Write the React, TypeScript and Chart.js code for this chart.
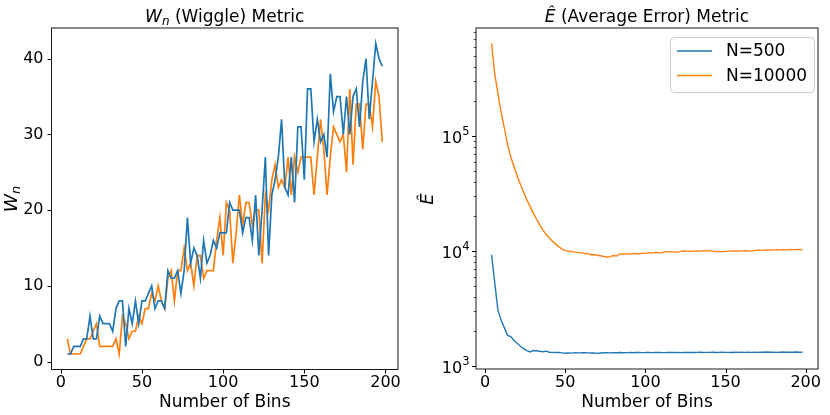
import { useEffect, useRef } from 'react';
import { Chart, ChartConfiguration, registerables } from 'chart.js';

Chart.register(...registerables);

// Bin counts used on both panels
const bins = [
  4, 6, 8, 10, 12, 14, 16, 18, 20, 22, 24, 26, 28, 30, 32, 34, 36, 38, 40, 42,
  44, 46, 48, 50, 52, 54, 56, 58, 60, 62, 64, 66, 68, 70, 72, 74, 76, 78, 80, 82,
  84, 86, 88, 90, 92, 94, 96, 98, 100, 102, 104, 106, 108, 110, 112, 114, 116, 118, 120, 122,
  124, 126, 128, 130, 132, 134, 136, 138, 140, 142, 144, 146, 148, 150, 152, 154, 156, 158, 160, 162,
  164, 166, 168, 170, 172, 174, 176, 178, 180, 182, 184, 186, 188, 190, 192, 194, 196, 198,
];

// W_n (wiggle) metric
const wiggle500 = [
  1, 1, 2, 2, 2, 3, 3, 6, 3, 3, 6, 5, 5, 5, 4, 7, 8, 8, 2, 7,
  5, 8, 5, 8, 8, 9, 10, 7, 8, 8, 7, 12, 11, 11, 12, 9, 12, 19, 13, 15,
  14, 11, 16, 13, 14, 16, 15, 17, 17, 17, 21, 20, 20, 20, 17, 19, 19, 16, 22, 14,
  20, 27, 14, 22, 24, 27, 32, 23, 22, 27, 21, 31, 31, 24, 36, 36, 29, 32, 29, 30,
  27, 38, 33, 35, 35, 30, 35, 30, 35, 36, 31, 37, 40, 32, 37, 42, 40, 39,
];
const wiggle10000 = [
  3, 1, 1, 1, 1, 2, 3, 3, 4, 5, 2, 2, 2, 2, 2, 3, 1, 6, 5, 3,
  4, 4, 6, 5, 7, 7, 9, 8, 10, 8, 7, 11, 12, 8, 12, 12, 15, 12, 13, 10,
  14, 14, 11, 12, 12, 12, 16, 19, 14, 21, 20, 13, 17, 22, 18, 21, 21, 18, 20, 20,
  13, 22, 20, 24, 26, 23, 24, 23, 27, 22, 27, 25, 27, 27, 27, 27, 22, 27, 32, 28,
  22, 27, 31, 30, 29, 30, 25, 36, 26, 34, 34, 28, 34, 34, 31, 37, 35, 29,
];

// Ê (average error) metric
const error500 = [
  9300, 5300, 3050, 2500, 2150, 1850, 1810, 1670, 1580, 1490,
  1420, 1365, 1330, 1365, 1360, 1345, 1335, 1350, 1320, 1318,
  1312, 1315, 1305, 1295, 1300, 1298, 1310, 1304, 1306, 1310,
  1304, 1300, 1302, 1290, 1300, 1305, 1308, 1304, 1310, 1308,
  1312, 1306, 1310, 1314, 1308, 1312, 1315, 1310, 1312, 1316,
  1310, 1314, 1318, 1312, 1310, 1316, 1312, 1318, 1314, 1310,
  1316, 1312, 1318, 1314, 1316, 1320, 1314, 1318, 1316, 1320,
  1314, 1318, 1322, 1316, 1318, 1314, 1320, 1318, 1322, 1316,
  1320, 1318, 1324, 1318, 1322, 1320, 1326, 1320, 1324, 1318,
  1322, 1326, 1320, 1324, 1322, 1326, 1320, 1322,
];
const error10000 = [
  640000, 345000, 235000, 160000, 117000, 84000, 66000, 54000, 45000, 38000,
  32500, 28000, 24500, 21500, 19000, 17000, 15300, 14000, 13000, 12200,
  11500, 10900, 10400, 10100, 10000, 9900, 9800, 9750, 9650, 9500,
  9550, 9300, 9350, 9200, 9100, 9000, 8850, 8950, 9150, 9050,
  9450, 9400, 9500, 9400, 9500, 9550, 9450, 9600, 9550, 9700,
  9600, 9750, 9700, 9650, 9900, 9850, 9900, 9800, 9800, 9950,
  10050, 10000, 9950, 10000, 10050, 10000, 10100, 10050, 10100, 10000,
  9900, 9950, 9900, 9950, 10000, 10000, 10050, 10000, 10050, 10100,
  10050, 10000, 10100, 10200, 10150, 10200, 10250, 10200, 10250, 10300,
  10250, 10300, 10250, 10350, 10300, 10300, 10350, 10300,
];

const binTicks = [0, 50, 100, 150, 200];
const wiggleTicks = [0, 10, 20, 30, 40];
const errorMajorTicks = [1000, 10000, 100000];
const errorExponents = ['3', '4', '5'];

const seriesNames = ['N=500', 'N=10000'];
const BLUE = '#1f77b4';
const ORANGE = '#ff7f0e';
const FONT = '"DejaVu Sans", sans-serif';

Chart.defaults.font.family = FONT;
Chart.defaults.color = '#000';

type Part = { text: string; size: number; italic?: boolean; dy?: number };

function fontOf(p: Part) {
  return `${p.italic ? 'italic ' : ''}${p.size}px ${FONT}`;
}

function partsWidth(ctx: CanvasRenderingContext2D, parts: Part[]) {
  let w = 0;
  for (const p of parts) {
    ctx.font = fontOf(p);
    w += ctx.measureText(p.text).width;
  }
  return w;
}

function drawParts(ctx: CanvasRenderingContext2D, parts: Part[], x0: number, baseline: number) {
  let x = x0;
  ctx.textAlign = 'left';
  ctx.textBaseline = 'alphabetic';
  for (const p of parts) {
    ctx.font = fontOf(p);
    ctx.fillText(p.text, x, baseline + (p.dy || 0));
    x += ctx.measureText(p.text).width;
  }
}

const drawCentered = (ctx: CanvasRenderingContext2D, parts: Part[], cx: number, baseline: number) =>
  drawParts(ctx, parts, cx - partsWidth(ctx, parts) / 2, baseline);

const toPoints = (ys: number[]) => bins.map((b, i) => ({ x: b, y: ys[i] }));

// spines, outward ticks, titles, axis labels and legend, matplotlib style
const framePlugin = {
  id: 'frame',
  afterDraw(chart: any, _args: any, opts: any) {
    const { ctx, chartArea: a, scales } = chart;
    ctx.save();
    ctx.fillStyle = '#000';
    ctx.strokeStyle = '#000';

    ctx.lineWidth = 1;
    for (const t of scales.x.ticks) {
      const px = Math.round(scales.x.getPixelForValue(t.value)) + 0.5;
      ctx.beginPath();
      ctx.moveTo(px, a.bottom);
      ctx.lineTo(px, a.bottom + 4);
      ctx.stroke();
    }
    for (const t of scales.y.ticks) {
      const py = Math.round(scales.y.getPixelForValue(t.value)) + 0.5;
      const major = !opts.logMinor || t.major;
      ctx.lineWidth = major ? 1 : 0.7;
      ctx.beginPath();
      ctx.moveTo(a.left, py);
      ctx.lineTo(a.left - (major ? 4 : 2.3), py);
      ctx.stroke();
    }

    // 10^n labels with a raised exponent
    if (opts.logMinor) {
      errorMajorTicks.forEach((v, i) => {
        const py = scales.y.getPixelForValue(v);
        const parts: Part[] = [
          { text: '10', size: 16 },
          { text: errorExponents[i], size: 11.5, dy: -7.5 },
        ];
        drawParts(ctx, parts, a.left - 6.5 - partsWidth(ctx, parts), py + 6.5);
      });
    }

    ctx.lineWidth = 0.9;
    ctx.strokeRect(a.left, a.top, a.right - a.left, a.bottom - a.top);

    const cx = (a.left + a.right) / 2;
    drawCentered(ctx, opts.title, cx, 22);
    drawCentered(ctx, [{ text: 'Number of Bins', size: 17 }], cx, 407);

    ctx.save();
    ctx.translate(opts.ylabelX, 199);
    ctx.rotate(-Math.PI / 2);
    drawCentered(ctx, opts.ylabel, 0, 0);
    ctx.restore();

    if (opts.legend) {
      const lx = 255, ly = 37, lw = 144, lh = 55;
      ctx.beginPath();
      ctx.roundRect(lx + 0.5, ly + 0.5, lw, lh, 4);
      ctx.fillStyle = 'rgba(255,255,255,0.8)';
      ctx.fill();
      ctx.strokeStyle = '#cccccc';
      ctx.lineWidth = 1;
      ctx.stroke();
      chart.data.datasets.forEach((ds: any, i: number) => {
        const y = 51 + i * 24.5;
        ctx.strokeStyle = ds.borderColor;
        ctx.lineWidth = 1.5;
        ctx.beginPath();
        ctx.moveTo(262, y);
        ctx.lineTo(297, y);
        ctx.stroke();
        ctx.fillStyle = '#000';
        ctx.font = `17px ${FONT}`;
        ctx.textAlign = 'left';
        ctx.textBaseline = 'middle';
        ctx.fillText(ds.label, 311, y + 1);
      });
    }
    ctx.restore();
  },
};

function xScale(chartBottomGap: number) {
  return {
    type: 'linear' as const,
    min: -5.7,
    max: 207.7,
    grid: { display: false, drawTicks: false },
    border: { display: false },
    afterBuildTicks: (s: any) => {
      s.ticks = binTicks.map((v) => ({ value: v }));
    },
    afterFit: (s: any) => {
      s.height = chartBottomGap;
    },
    ticks: { font: { size: 16 }, color: '#000', padding: 4, maxRotation: 0, autoSkip: false },
  };
}

function wiggleConfig(): ChartConfiguration {
  return {
    type: 'line',
    data: {
      datasets: [
        { label: seriesNames[0], data: toPoints(wiggle500), borderColor: BLUE, borderWidth: 1.7 },
        { label: seriesNames[1], data: toPoints(wiggle10000), borderColor: ORANGE, borderWidth: 1.7 },
      ],
    },
    options: {
      animation: false,
      responsive: false,
      devicePixelRatio: 1,
      elements: { point: { radius: 0 }, line: { tension: 0 } },
      layout: { padding: { top: 28, right: 17, left: 0, bottom: 0 } },
      plugins: {
        legend: { display: false },
        tooltip: { enabled: false },
        frame: {
          title: [
            { text: 'W', size: 17, italic: true },
            { text: 'n', size: 12, italic: true, dy: 3 },
            { text: ' (Wiggle) Metric', size: 17 },
          ],
          ylabel: [
            { text: 'W', size: 18.5, italic: true },
            { text: 'n', size: 13, italic: true, dy: 3.5 },
          ],
          ylabelX: 16.7,
        },
      } as any,
      scales: {
        x: xScale(45.5),
        y: {
          type: 'linear',
          min: -1.05,
          max: 44.05,
          grid: { display: false, drawTicks: false },
          border: { display: false },
          afterBuildTicks: (s: any) => {
            s.ticks = wiggleTicks.map((v) => ({ value: v }));
          },
          afterFit: (s: any) => {
            s.width = 51.5;
          },
          ticks: { font: { size: 16 }, color: '#000', padding: 8, autoSkip: false },
        },
      },
    },
    plugins: [framePlugin],
  } as any;
}

function errorConfig(): ChartConfiguration {
  return {
    type: 'line',
    data: {
      datasets: [
        { label: seriesNames[0], data: toPoints(error500), borderColor: BLUE, borderWidth: 1.4 },
        { label: seriesNames[1], data: toPoints(error10000), borderColor: ORANGE, borderWidth: 1.4 },
      ],
    },
    options: {
      animation: false,
      responsive: false,
      devicePixelRatio: 1,
      elements: { point: { radius: 0 }, line: { tension: 0 } },
      layout: { padding: { top: 28, right: 12, left: 0, bottom: 0 } },
      plugins: {
        legend: { display: false },
        tooltip: { enabled: false },
        frame: {
          title: [
            { text: 'Ê', size: 17, italic: true },
            { text: ' (Average Error) Metric', size: 17 },
          ],
          ylabel: [{ text: 'Ê', size: 18, italic: true }],
          ylabelX: 18,
          logMinor: true,
          legend: true,
        },
      } as any,
      scales: {
        x: xScale(46),
        y: {
          type: 'logarithmic',
          min: 944,
          max: 870000,
          grid: { display: false, drawTicks: false },
          border: { display: false },
          afterBuildTicks: (s: any) => {
            const ticks: any[] = [];
            for (const m of errorMajorTicks) {
              ticks.push({ value: m, major: true });
              for (let k = 2; k <= 9; k++) {
                if (m * k <= 870000) ticks.push({ value: m * k, major: false });
              }
            }
            s.ticks = ticks;
          },
          afterFit: (s: any) => {
            s.width = 61;
          },
          // labels are drawn by the frame plugin
          ticks: { font: { size: 16 }, padding: 8, autoSkip: false, callback: () => '' },
        },
      },
    },
    plugins: [framePlugin],
  } as any;
}

function Panel({ build, left }: { build: () => ChartConfiguration; left: number }) {
  const canvasRef = useRef<HTMLCanvasElement>(null);

  useEffect(() => {
    if (!canvasRef.current) return;
    const chart = new Chart(canvasRef.current, build());
    return () => {
      chart.destroy();
    };
  }, [build]);

  return (
    <canvas
      ref={canvasRef}
      width={415}
      height={415}
      style={{ position: 'absolute', left, top: 0, width: 415, height: 415 }}
    />
  );
}

export default function App() {
  return (
    <div style={{ position: 'fixed', left: 0, top: 0, width: 830, height: 415, background: '#fff' }}>
      <Panel build={wiggleConfig} left={0} />
      <Panel build={errorConfig} left={415} />
    </div>
  );
}
